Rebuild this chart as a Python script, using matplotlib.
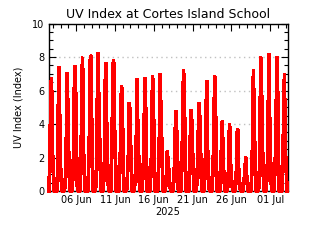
import numpy as np
import pandas as pd
import matplotlib
matplotlib.use("Agg")
import matplotlib.pyplot as plt
import matplotlib.dates as mdates
from matplotlib.ticker import MultipleLocator

# ---- data (UV index; one row per day, local PDT hours) ----
days = pd.date_range("2025-06-02", "2025-07-02", freq="D")
uv_08 = [2.4, 1.3, 0.9, 1.4, 1.4, 1.5, 1.5, 1.5, 3.1, 1.2, 1.0, 1.0, 1.2, 1.0, 1.2, 1.0,
         1.0, 1.5, 1.5, 1.5, 1.5, 1.2, 1.0, 1.35, 1.0, 0.6, 1.0, 1.5, 1.5, 1.5, 1.5]
uv_11 = [6.3, 7.3, 3.5, 5.9, 7.0, 4.5, 6.35, 6.55, 7.5, 3.3, 2.4, 3.2, 3.2, 3.0, 4.0, 2.4,
         3.3, 4.9, 4.2, 3.9, 5.1, 3.6, 3.35, 4.0, 3.55, 1.25, 3.55, 6.65, 5.2, 3.5, 5.2]
uv_13 = [6.8, 7.4, 7.1, 7.5, 8.0, 8.1, 8.25, 7.7, 7.85, 6.3, 5.3, 6.7, 6.8, 6.9, 7.0, 1.75,
         4.8, 7.25, 4.85, 5.3, 6.6, 6.9, 4.2, 3.6, 3.7, 2.05, 7.25, 8.0, 8.2, 8.0, 7.0]
uv_15 = [2.9, 2.4, 5.4, 6.7, 2.8, 8.0, 5.5, 4.5, 4.3, 6.0, 4.9, 4.5, 6.35, 6.3, 4.7, 1.35,
         4.05, 6.35, 3.9, 4.5, 2.75, 6.4, 2.35, 1.35, 1.5, 1.25, 4.8, 5.2, 4.7, 7.9, 3.0]
uv_18 = [1.3, 1.0, 2.3, 2.6, 1.35, 2.7, 3.0, 1.95, 2.6, 2.4, 2.35, 2.4, 2.35, 2.8, 2.9, 0.55,
         2.6, 2.6, 1.75, 2.15, 1.2, 2.35, 0.75, 0.6, 0.6, 0.5, 2.0, 2.0, 2.0, 2.5, 1.5]
sample_hours_utc = [12, 15, 18, 20, 22, 25, 28]   # 05,08,11,13,15,18,21 PDT
x_start = "2025-06-02 11:00"
x_end = "2025-07-03 06:00"
title = "UV Index at Cortes Island School"
ylabel = "UV Index (Index)"
xlabel = "2025"

# ---- assemble time series ----
times, vals = [], []
for i, d in enumerate(days):
    row = [0.0, uv_08[i], uv_11[i], uv_13[i], uv_15[i], uv_18[i], 0.0]
    for h, v in zip(sample_hours_utc, row):
        times.append(d + pd.Timedelta(hours=h))
        vals.append(v)
times = pd.to_datetime(times)

fig = plt.figure(figsize=(3.2, 2.4), dpi=100)
ax = fig.add_axes([0.152, 0.204, 0.747, 0.698])

ax.plot(times, vals, color="#ff0000", lw=1.9, zorder=3, clip_on=False,
        solid_joinstyle="bevel", antialiased=False)

ax.set_xlim(pd.Timestamp(x_start), pd.Timestamp(x_end))
ax.set_ylim(0, 10)

ax.yaxis.set_major_locator(MultipleLocator(2))
ax.yaxis.set_minor_locator(MultipleLocator(0.5))
ax.xaxis.set_major_locator(mdates.DayLocator(bymonthday=[1, 6, 11, 16, 21, 26]))
ax.xaxis.set_minor_locator(mdates.DayLocator())
ax.xaxis.set_major_formatter(mdates.DateFormatter("%d %b"))

ax.grid(axis="y", which="major", color="#c0c0c0", linestyle=(0, (1, 2.5)), lw=1, zorder=0)
ax.set_axisbelow(True)

ax.tick_params(which="both", direction="in", top=True, right=True, colors="black",
               labelsize=7, width=0.8)
ax.tick_params(which="major", length=5, pad=3)
ax.tick_params(which="minor", length=3)
for s in ax.spines.values():
    s.set_color("black")
    s.set_linewidth(1)
    s.set_zorder(2)

ax.set_title(title, fontsize=9, pad=4)
ax.set_ylabel(ylabel, fontsize=7, labelpad=6)
ax.set_xlabel(xlabel, fontsize=7, labelpad=1)

fig.savefig("out.png", dpi=100)
